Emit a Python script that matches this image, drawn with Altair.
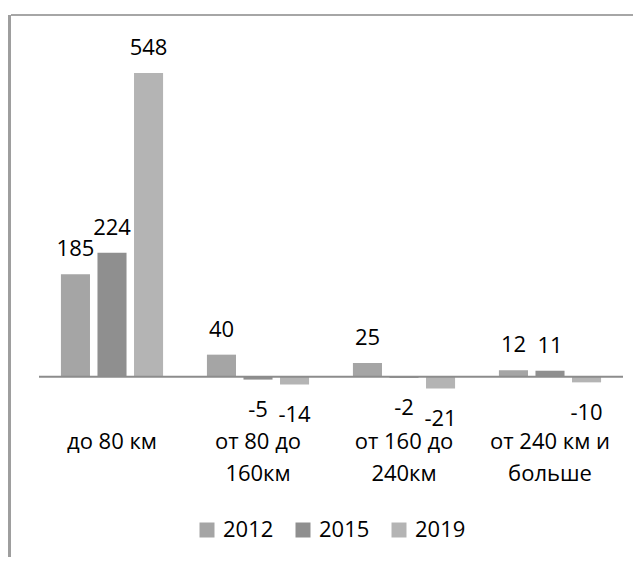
import altair as alt
import pandas as pd

categories = ["до 80 км", "от 80 до\n160км", "от 160 до\n240км", "от 240 км и\nбольше"]
years = ["2012", "2015", "2019"]
v2012 = [185, 40, 25, 12]
v2015 = [224, -5, -2, 11]
v2019 = [548, -14, -21, -10]
colors = ["#A5A5A5", "#8F8F8F", "#B4B4B4"]

rows = []
for yr, vals in zip(years, [v2012, v2015, v2019]):
    for c, v in zip(categories, vals):
        rows.append({"cat": c, "year": yr, "value": v, "label": str(v)})
df = pd.DataFrame(rows)

FONT = "Open Sans"
FS = 22

base = alt.Chart(df).encode(
    x=alt.X(
        "cat:N",
        sort=categories,
        scale=alt.Scale(paddingInner=0, paddingOuter=0),
        axis=alt.Axis(
            title=None, labelAngle=0, domain=False, ticks=False,
            labelFontSize=FS, labelFont=FONT, labelColor="black",
            labelPadding=32, labelLineHeight=32, labelOverlap=False,
            labelLimit=0, labelBaseline="top",
            labelExpr="split(datum.label, '\\n')",
        ),
    ),
    xOffset=alt.XOffset("year:N", sort=years,
                        scale=alt.Scale(paddingInner=0.205, paddingOuter=0.6)),
    y=alt.Y("value:Q", scale=alt.Scale(domain=[-40, 640], nice=False, zero=False), axis=None),
)

bars = base.mark_bar().encode(
    color=alt.Color(
        "year:N",
        scale=alt.Scale(domain=years, range=colors),
        legend=alt.Legend(
            orient="none", legendX=157, legendY=497, direction="horizontal",
            title=None, symbolType="square", symbolSize=225, symbolStrokeWidth=0,
            symbolOpacity=1, labelFontSize=FS, labelFont=FONT, labelColor="black",
            labelOffset=5, columnPadding=18, padding=0,
        ),
    )
)

pos_text = base.transform_filter("datum.value >= 0").mark_text(
    dy=-18, baseline="alphabetic", fontSize=FS, font=FONT, color="black"
).encode(text="label:N")

neg_text = base.transform_filter("datum.value < 0").mark_text(
    dy=37.5, baseline="alphabetic", fontSize=FS, font=FONT, color="black"
).encode(text="label:N")

zero = alt.Chart(pd.DataFrame({"z": [0]})).mark_rule(color="#8C8C8C", strokeWidth=2).encode(
    y=alt.Y("z:Q", scale=alt.Scale(domain=[-40, 640], nice=False, zero=False), axis=None)
)

frame_df = pd.DataFrame({"k": [0]})
frame_v = alt.Chart(frame_df).mark_rule(color="#9E9E9E", strokeWidth=3).encode(
    x=alt.value(-29.5), y=alt.value(-7), y2=alt.value(540)
)
frame_h = alt.Chart(frame_df).mark_rule(color="#A6A6A6", strokeWidth=2).encode(
    x=alt.value(-28), x2=alt.value(600), y=alt.value(-7)
)

chart = alt.layer(frame_v, frame_h, bars, zero, pos_text, neg_text).properties(
    width=584, height=377,
    autosize=alt.AutoSizeParams(type="none"),
    padding={"left": 31, "top": 14, "right": 10, "bottom": 158},
).configure_view(stroke=None)

chart.save("out.html", embed_options={"renderer": "svg", "actions": False})
